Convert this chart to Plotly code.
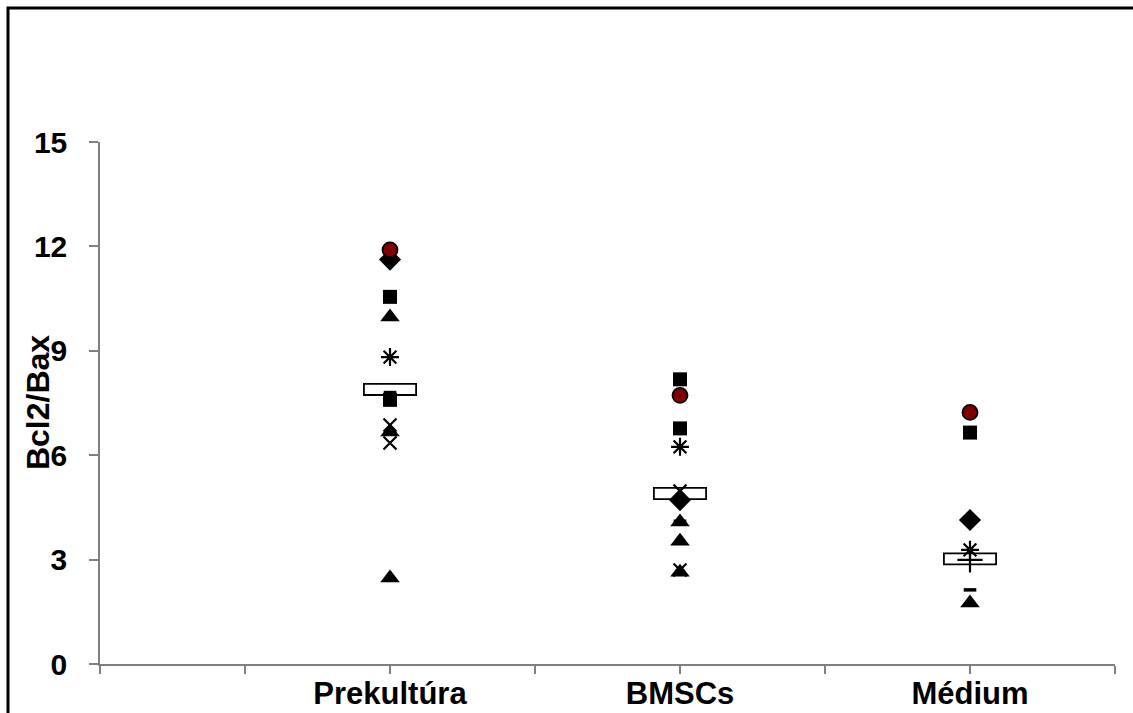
import plotly.graph_objects as go

categories = ["Prekultúra", "BMSCs", "Médium"]

# values (None = no visible point)
diamond = [11.62, 4.71, 4.14]
square_a = [10.55, 8.18, 6.65]
square_b = [7.59, 6.77, None]
triangle_a = [9.97, 4.08, 1.75]
triangle_b = [6.67, 3.53, None]
triangle_c = [2.47, 2.64, None]
x_a = [6.87, 4.97, None]
x_b = [6.35, 2.70, None]
asterisk = [8.82, 6.24, 3.28]
circle = [11.90, 7.72, 7.23]
plus = [None, None, 2.99]
dash = [7.80, 4.10, 2.13]
summary = [7.89, 4.90, 3.02]

y_ticks = [0, 3, 6, 9, 12, 15]

xpos = [2 * (i + 1) for i in range(len(categories))]

FONT = "Liberation Sans, Arial, sans-serif"
BOX_H = 0.32
BOX_W = 0.36

fig = go.Figure()

# summary boxes (white rectangles)
fig.add_trace(go.Bar(
    x=xpos, y=[BOX_H] * len(summary), base=[v - BOX_H / 2 for v in summary],
    width=BOX_W, marker=dict(color="white", line=dict(color="black", width=1.8)),
    showlegend=False, hoverinfo="skip"))


def add(vals, symbol, size, color="black", line_color="black", line_width=0):
    fig.add_trace(go.Scatter(
        x=xpos, y=vals, mode="markers", showlegend=False,
        marker=dict(symbol=symbol, size=size, color=color,
                    line=dict(color=line_color, width=line_width))))


add(diamond, "diamond", 17)
add(square_a, "square", 14)
add(square_b, "square", 14)
add(triangle_a, "triangle-up", 17)
add(triangle_b, "triangle-up", 17)
add(triangle_c, "triangle-up", 17)
add(x_a, "x-thin-open", 13, line_width=2.2)
add(x_b, "x-thin-open", 13, line_width=2.2)
add(asterisk, "asterisk-open", 15, line_width=2.2)
add(circle, "circle", 15, color="#800000", line_width=1.8)
add(plus, "cross-thin-open", 18, line_width=2.2)
add(dash, "line-ew-open", 9, line_width=3.5)

axis_line = "#808080"
fig.update_layout(
    width=1133, height=713,
    margin=dict(l=100, r=18, t=142, b=49),
    plot_bgcolor="white", paper_bgcolor="white",
    barmode="overlay",
    font=dict(family=FONT, size=31, color="black", weight="bold"),
    xaxis=dict(range=[0, 7], tickvals=list(range(8)),
               ticktext=["", "", categories[0], "", categories[1], "", categories[2], ""],
               showgrid=False, zeroline=False, showline=True, linecolor=axis_line,
               linewidth=1.5, ticks="outside", ticklen=8, tickcolor=axis_line,
               tickwidth=1.5, automargin=False, ticklabelstandoff=-7,
               tickfont=dict(size=31, family=FONT, weight="bold")),
    yaxis=dict(range=[0, 15], tickvals=y_ticks, showgrid=False, zeroline=False,
               showline=True, linecolor=axis_line, linewidth=1.5, ticks="outside",
               ticklen=9, tickcolor=axis_line, tickwidth=1.5, automargin=False,
               ticklabelstandoff=16,
               tickfont=dict(size=30, family=FONT, weight="bold")),
    annotations=[dict(text="Bcl2/Bax", xref="paper", yref="paper", x=-0.061, y=0.5,
                      xanchor="center", yanchor="middle", textangle=-90, showarrow=False,
                      font=dict(size=32, family=FONT, weight="bold"))],
    shapes=[dict(type="rect", xref="paper", yref="paper",
                 x0=(8 - 100) / 1015, x1=(1145 - 100) / 1015,
                 y0=(664 - 725) / 522, y1=(664 - 8) / 522,
                 line=dict(color="black", width=3), layer="below")],
)

fig.write_html("out.html")
